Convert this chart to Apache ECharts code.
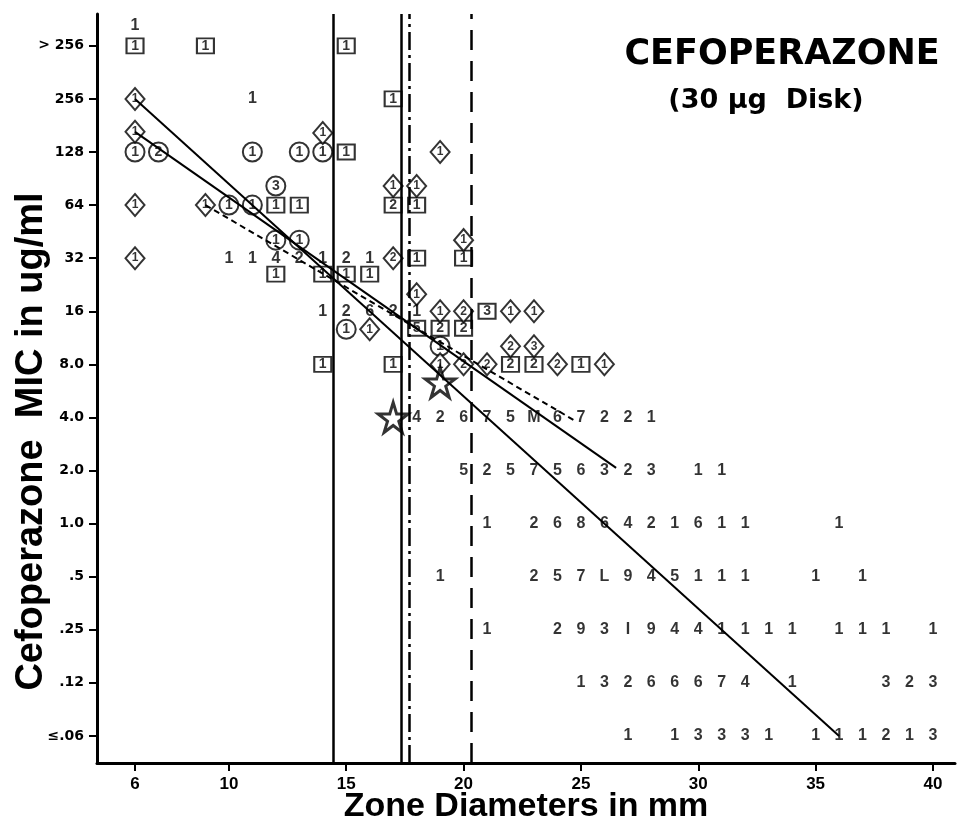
<!DOCTYPE html>
<html><head><meta charset="utf-8">
<script src="https://cdn.jsdelivr.net/npm/echarts@6/dist/echarts.min.js"></script>
<style>html,body{margin:0;padding:0;background:#fff}#c{width:958px;height:821px}</style>
</head><body><div id="c"></div>
<script>
// MIC categories (index 0 = bottom)
const yTickLabels = ['\u2264.06', '.12', '.25', '.5', '1.0', '2.0', '4.0', '8.0', '16', '32', '64', '128', '256', '> 256'];
const xTickValues = [6, 10, 15, 20, 25, 30, 35, 40];

// [zone mm, MIC index, count]
const squares = [
  [6,13,'1'],[9,13,'1'],[15,13,'1'],[17,12,'1'],[15,11,'1'],
  [12,10,'1'],[13,10,'1'],[17,10,'2'],[18,10,'1'],
  [18,9,'1'],[20,9,'1'],[12,8.7,'1'],[14,8.7,'1'],[15,8.7,'1'],[16,8.7,'1'],
  [21,8,'3'],[18,7.68,'5'],[19,7.68,'2'],[20,7.68,'2'],
  [14,7,'1'],[17,7,'1'],[22,7,'2'],[23,7,'2'],[25,7,'1']
];
const circles = [
  [6,11,'1'],[7,11,'2'],[11,11,'1'],[13,11,'1'],[14,11,'1'],
  [10,10,'1'],[11,10,'1'],[12,10.36,'3'],[12,9.34,'1'],[13,9.34,'1'],
  [15,7.66,'1'],[19,7.34,'1']
];
const diamonds = [
  [6,12,'1'],[6,11.38,'1'],[14,11.36,'1'],[19,11,'1'],
  [6,10,'1'],[9,10,'1'],[17,10.36,'1'],[18,10.36,'1'],
  [20,9.34,'1'],[6,9,'1'],[17,9,'2'],[18,8.32,'1'],
  [19,8,'1'],[20,8,'2'],[22,8,'1'],[23,8,'1'],
  [16,7.66,'1'],[22,7.34,'2'],[23,7.34,'3'],
  [19,7,'1'],[20,7,'2'],[21,7,'2'],[24,7,'2'],[26,7,'1']
];
const counts = [
  [6,13.38,'1'],[11,12,'1'],
  [10,9,'1'],[11,9,'1'],[12,9,'4'],[13,9,'2'],[14,9,'1'],[15,9,'2'],[16,9,'1'],
  [14,8,'1'],[15,8,'2'],[16,8,'6'],[17,8,'2'],[18,8,'1'],
  [18,6,'4'],[19,6,'2'],[20,6,'6'],[21,6,'7'],[22,6,'5'],[23,6,'M'],[24,6,'6'],[25,6,'7'],[26,6,'2'],[27,6,'2'],[28,6,'1'],
  [20,5,'5'],[21,5,'2'],[22,5,'5'],[23,5,'7'],[24,5,'5'],[25,5,'6'],[26,5,'3'],[27,5,'2'],[28,5,'3'],[30,5,'1'],[31,5,'1'],
  [21,4,'1'],[23,4,'2'],[24,4,'6'],[25,4,'8'],[26,4,'6'],[27,4,'4'],[28,4,'2'],[29,4,'1'],[30,4,'6'],[31,4,'1'],[32,4,'1'],[36,4,'1'],
  [19,3,'1'],[23,3,'2'],[24,3,'5'],[25,3,'7'],[26,3,'L'],[27,3,'9'],[28,3,'4'],[29,3,'5'],[30,3,'1'],[31,3,'1'],[32,3,'1'],[35,3,'1'],[37,3,'1'],
  [21,2,'1'],[24,2,'2'],[25,2,'9'],[26,2,'3'],[27,2,'I'],[28,2,'9'],[29,2,'4'],[30,2,'4'],[31,2,'1'],[32,2,'1'],[33,2,'1'],[34,2,'1'],[36,2,'1'],[37,2,'1'],[38,2,'1'],[40,2,'1'],
  [25,1,'1'],[26,1,'3'],[27,1,'2'],[28,1,'6'],[29,1,'6'],[30,1,'6'],[31,1,'7'],[32,1,'4'],[34,1,'1'],[38,1,'3'],[39,1,'2'],[40,1,'3'],
  [27,0,'1'],[29,0,'1'],[30,0,'3'],[31,0,'3'],[32,0,'3'],[33,0,'1'],[35,0,'1'],[36,0,'1'],[37,0,'1'],[38,0,'2'],[39,0,'1'],[40,0,'3']
];
const stars = [[17,6],[19,6.66]];
const regLineA = [[6,12],[36,0]];
const regLineB = [[6,11.38],[26.5,5.05]];
const regLineC = [[9,10],[24.7,5.95]];
const breakSolid = [14.44, 17.33];
const breakDashDot = [17.67];
const breakDashed = [20.32];

const chart = echarts.init(document.getElementById('c'), null, {renderer: 'canvas'});
const NUMFONT = 'Liberation Sans, Arial, sans-serif';
const markerLabel = {show: true, position: 'inside', formatter: p => p.value[2], color: '#000', fontWeight: 'bold', fontSize: 14, fontFamily: NUMFONT};
const markerStyle = {color: '#fff', borderColor: '#000', borderWidth: 2};
const starPath = 'path://M50,0 L61,35 L98,35 L68,57 L79,91 L50,70 L21,91 L32,57 L2,35 L39,35 Z';

chart.setOption({
  animation: false,
  backgroundColor: '#fff',
  grid: {left: 97, right: 3, top: 14, bottom: 58, containLabel: false, outerBoundsMode: 'none'},
  xAxis: {
    type: 'value', min: 4.38, max: 40.94,
    name: 'Zone Diameters in mm', nameLocation: 'middle', nameGap: 27, nameMoveOverlap: false,
    nameTextStyle: {fontSize: 34, fontWeight: 'bold', fontFamily: 'Liberation Sans, Arial, sans-serif', color: '#000'},
    axisLine: {onZero: false, lineStyle: {color: '#000', width: 3}},
    axisTick: {customValues: xTickValues, length: 8, lineStyle: {color: '#000', width: 2}},
    axisLabel: {customValues: xTickValues, color: '#000', fontWeight: 'bold', fontSize: 17, margin: 13, fontFamily: 'Liberation Sans, sans-serif'},
    splitLine: {show: false}
  },
  yAxis: {
    type: 'value', min: -0.51, max: 13.6,
    name: 'Cefoperazone  MIC in ug/ml', nameLocation: 'middle', nameGap: 46, nameMoveOverlap: false,
    nameTextStyle: {fontSize: 38, fontWeight: 'bold', fontFamily: 'Liberation Sans, Arial, sans-serif', color: '#000', padding: [0, 106, 0, 0]},
    axisLine: {onZero: false, lineStyle: {color: '#000', width: 3}},
    axisTick: {customValues: yTickLabels.map((_, i) => i), length: 8, lineStyle: {color: '#000', width: 2}},
    axisLabel: {customValues: yTickLabels.map((_, i) => i), formatter: v => yTickLabels[Math.round(v)], color: '#000', fontWeight: 'bold', fontSize: 14, margin: 13, fontFamily: 'DejaVu Sans, sans-serif'},
    splitLine: {show: false}
  },
  graphic: [
    {type: 'text', x: 782, y: 55, z: 100, style: {text: 'CEFOPERAZONE', fill: '#000', font: 'bold 35px "DejaVu Sans", sans-serif', textAlign: 'center', textVerticalAlign: 'middle'}},
    {type: 'text', x: 766, y: 101, z: 100, style: {text: '(30 \u00b5g  Disk)', fill: '#000', font: 'bold 27px "DejaVu Sans", sans-serif', textAlign: 'center', textVerticalAlign: 'middle'}}
  ],
  series: [
    {type: 'scatter', name: 'breaks', data: [], silent: true,
      markLine: {silent: true, symbol: 'none', label: {show: false}, data: [
        ...breakSolid.map(v => ({xAxis: v, lineStyle: {type: 'solid', width: 2.5, color: '#000'}})),
        ...breakDashDot.map(v => ({xAxis: v, lineStyle: {type: [18, 5, 3, 5], width: 2.5, color: '#000'}})),
        ...breakDashed.map(v => ({xAxis: v, lineStyle: {type: [20, 11], width: 2.5, color: '#000'}}))
      ]}},
    {type: 'scatter', name: 'squares', data: squares, symbol: 'rect', symbolSize: [17, 15], itemStyle: markerStyle, label: markerLabel, z: 3},
    {type: 'scatter', name: 'circles', data: circles, symbol: 'circle', symbolSize: 19, itemStyle: markerStyle, label: markerLabel, z: 3},
    {type: 'scatter', name: 'diamonds', data: diamonds, symbol: 'diamond', symbolSize: [19, 22], itemStyle: markerStyle, label: Object.assign({}, markerLabel, {fontSize: 12}), z: 3},
    {type: 'scatter', name: 'counts', data: counts, symbolSize: 1, itemStyle: {color: 'rgba(0,0,0,0)'},
      label: {show: true, position: 'inside', formatter: p => p.value[2], color: '#000', fontWeight: 'bold', fontSize: 16, fontFamily: NUMFONT}, z: 3},
    {type: 'scatter', name: 'stars', data: stars, symbol: starPath, symbolSize: 30, itemStyle: {color: '#fff', borderColor: '#000', borderWidth: 3}, z: 4},
    {type: 'line', data: regLineA, symbol: 'none', lineStyle: {color: '#000', width: 2}, z: 5},
    {type: 'line', data: regLineB, symbol: 'none', lineStyle: {color: '#000', width: 2}, z: 5},
    {type: 'line', data: regLineC, symbol: 'none', lineStyle: {color: '#000', width: 2, type: [6, 4]}, z: 5}
  ]
});
</script>
</body></html>
